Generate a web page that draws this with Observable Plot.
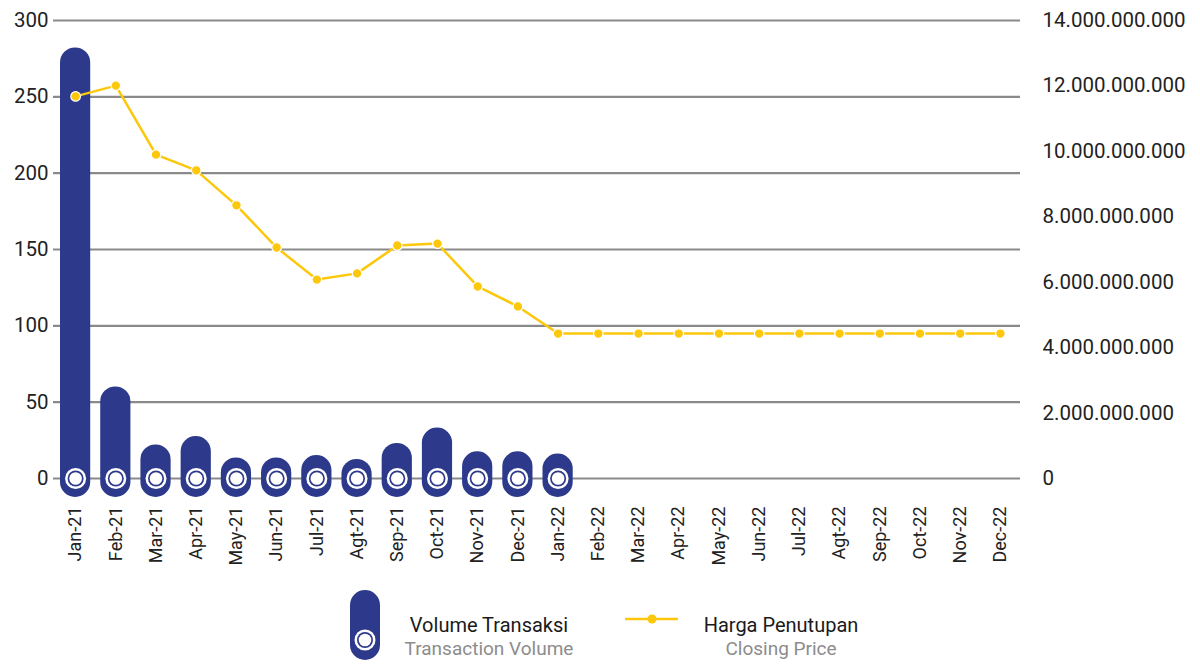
<!DOCTYPE html>
<html>
<head>
<meta charset="utf-8">
<script src="https://cdn.jsdelivr.net/npm/d3@7"></script>
<script src="https://cdn.jsdelivr.net/npm/@observablehq/plot@0.6"></script>
<style>
  html, body { margin: 0; padding: 0; background: #ffffff; }
  #wrap { position: relative; width: 1200px; height: 664px; overflow: hidden; font-family: Roboto, "Noto Sans", sans-serif; }
  #chart svg { display: block; }
  #legend { position: absolute; left: 0; top: 580px; width: 1200px; height: 84px; }
</style>
</head>
<body>
<div id="wrap">
  <div id="chart"></div>
  <svg id="legend" width="1200" height="84"></svg>
</div>
<script>
// ---- data ----
const months = ["Jan-21","Feb-21","Mar-21","Apr-21","May-21","Jun-21","Jul-21","Agt-21","Sep-21","Oct-21","Nov-21","Dec-21",
                "Jan-22","Feb-22","Mar-22","Apr-22","May-22","Jun-22","Jul-22","Agt-22","Sep-22","Oct-22","Nov-22","Dec-22"];
const volumeMonths = ["Jan-21","Feb-21","Mar-21","Apr-21","May-21","Jun-21","Jul-21","Agt-21","Sep-21","Oct-21","Nov-21","Dec-21","Jan-22"];
const volume = [282, 60, 22, 27.5, 13.5, 13.5, 15, 12.5, 23, 33, 17.5, 17.5, 16];
const closingPrice = [11680000000, 12010000000, 9900000000, 9420000000, 8350000000, 7060000000, 6080000000, 6270000000,
                      7120000000, 7180000000, 5870000000, 5260000000, 4430000000, 4430000000, 4430000000, 4430000000,
                      4430000000, 4430000000, 4430000000, 4430000000, 4430000000, 4430000000, 4430000000, 4430000000];
const leftTicks = [0, 50, 100, 150, 200, 250, 300];
const rightTicks = [0, 2000000000, 4000000000, 6000000000, 8000000000, 10000000000, 12000000000, 14000000000];
const legendLabels = {
  volume: ["Volume Transaksi", "Transaction Volume"],
  price: ["Harga Penutupan", "Closing Price"]
};

// ---- derived tables ----
const leftMax = 300, rightMax = 14000000000;
const k = leftMax / rightMax; // map right axis values into left-axis units
const barData = volumeMonths.map((m, i) => ({month: m, volume: volume[i]}));
const lineData = months.map((m, i) => ({month: m, price: closingPrice[i]}));
const fmtDots = v => d3.format(",")(Math.round(v)).replace(/,/g, ".");

const NAVY = "#2d3a8c";
const GOLD = "#fdc70c";
const GRID = "#8a8a8a";

const chart = Plot.plot({
  width: 1200,
  height: 580,
  marginLeft: 55,
  marginRight: 180,
  marginTop: 20,
  marginBottom: 102,
  style: {fontFamily: "Roboto, 'Noto Sans', sans-serif", color: "#222", background: "transparent", overflow: "visible"},
  x: {domain: months, padding: 0, round: false, label: null},
  y: {domain: [0, leftMax], label: null},
  marks: [
    Plot.ruleY(leftTicks, {stroke: GRID, strokeWidth: 2.2, insetLeft: -2}),
    Plot.axisY(leftTicks, {anchor: "left", tickSize: 0, tickPadding: 7, label: null, fontSize: 20.5, tickFormat: d => String(d)}),
    Plot.axisY(rightTicks.map(v => v * k), {anchor: "right", tickSize: 0, tickPadding: 22, label: null, fontSize: 20.5,
      tickFormat: d => fmtDots(d / k)}),
    Plot.axisX({tickRotate: -90, tickSize: 0, tickPadding: 28, label: null, fontSize: 18}),
    Plot.barY(barData, {x: "month", y1: () => 0, y2: "volume", fill: NAVY, rx: 15, insetLeft: 5, insetRight: 5, insetBottom: -19}),
    Plot.dot(barData, {x: "month", y: () => 0, r: 10.5, fill: "white"}),
    Plot.dot(barData, {x: "month", y: () => 0, r: 8, fill: NAVY}),
    Plot.dot(barData, {x: "month", y: () => 0, r: 6.3, fill: "white"}),
    Plot.line(lineData, {x: "month", y: d => d.price * k, stroke: GOLD, strokeWidth: 2.5}),
    Plot.dot(lineData, {x: "month", y: d => d.price * k, r: 4.8, fill: GOLD, stroke: "white", strokeWidth: 1.2})
  ]
});
document.getElementById("chart").appendChild(chart);

// ---- legend ----
const lg = d3.select("#legend");
// volume icon
lg.append("rect").attr("x", 350).attr("y", 10).attr("width", 30).attr("height", 70).attr("rx", 15).attr("fill", NAVY);
lg.append("circle").attr("cx", 365).attr("cy", 60).attr("r", 10.5).attr("fill", "white");
lg.append("circle").attr("cx", 365).attr("cy", 60).attr("r", 8).attr("fill", NAVY);
lg.append("circle").attr("cx", 365).attr("cy", 60).attr("r", 6.3).attr("fill", "white");
lg.append("text").attr("x", 489).attr("y", 52).attr("text-anchor", "middle").attr("font-size", 20).attr("fill", "#1a1a1a")
  .attr("font-family", "Roboto, 'Noto Sans', sans-serif").text(legendLabels.volume[0]);
lg.append("text").attr("x", 489).attr("y", 75).attr("text-anchor", "middle").attr("font-size", 19).attr("fill", "#8c8c8c")
  .attr("font-family", "Roboto, 'Noto Sans', sans-serif").text(legendLabels.volume[1]);
// price icon
lg.append("line").attr("x1", 625).attr("x2", 678).attr("y1", 39).attr("y2", 39).attr("stroke", GOLD).attr("stroke-width", 2.5);
lg.append("circle").attr("cx", 652).attr("cy", 39).attr("r", 4.5).attr("fill", GOLD);
lg.append("text").attr("x", 781).attr("y", 52).attr("text-anchor", "middle").attr("font-size", 20).attr("fill", "#1a1a1a")
  .attr("font-family", "Roboto, 'Noto Sans', sans-serif").text(legendLabels.price[0]);
lg.append("text").attr("x", 781).attr("y", 75).attr("text-anchor", "middle").attr("font-size", 19).attr("fill", "#8c8c8c")
  .attr("font-family", "Roboto, 'Noto Sans', sans-serif").text(legendLabels.price[1]);
</script>
</body>
</html>
